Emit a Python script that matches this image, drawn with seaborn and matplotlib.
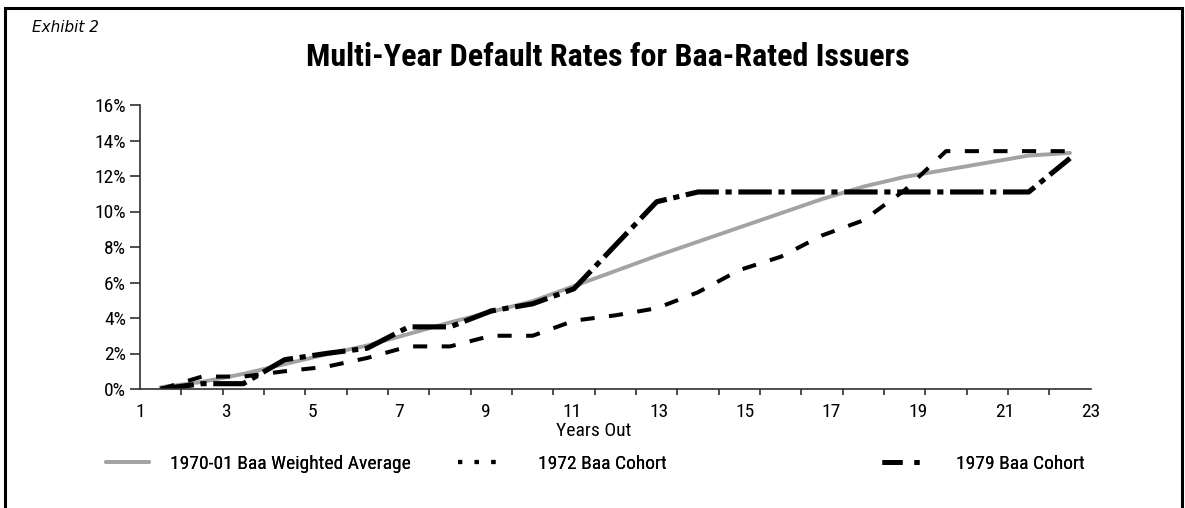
import numpy as np
import pandas as pd
import seaborn as sns
import matplotlib
matplotlib.use("Agg")
from matplotlib import pyplot as plt
from matplotlib.lines import Line2D
from matplotlib.patches import Rectangle
from matplotlib.ticker import FixedLocator, FixedFormatter, PercentFormatter

# data (default rates in %)
years = list(range(1, 24))
weighted_avg = [0.1, 0.4, 0.85, 1.4, 1.95, 2.45, 3.1, 3.75, 4.35, 4.95, 5.8, 6.65,
                7.5, 8.3, 9.1, 9.9, 10.7, 11.4, 11.95, 12.35, 12.75, 13.15, 13.3]
cohort_1972 = [0.0, 0.7, 0.7, 1.0, 1.25, 1.75, 2.4, 2.4, 3.0, 3.0, 3.85, 4.15,
               4.55, 5.45, 6.7, 7.45, 8.65, 9.5, 11.2, 13.4, 13.4, 13.4, 13.4]
cohort_1979 = [0.0, 0.3, 0.3, 1.65, 2.0, 2.3, 3.5, 3.5, 4.4, 4.8, 5.65, 8.1,
               10.55, 11.1, 11.1, 11.1, 11.1, 11.1, 11.1, 11.1, 11.1, 11.1, 13.0]
series_names = ["1970-01 Baa Weighted Average", "1972 Baa Cohort", "1979 Baa Cohort"]
x_tick_labels = [str(v) for v in range(1, 24, 2)]
y_ticks = list(range(0, 17, 2))

df = pd.DataFrame({"year": years, series_names[0]: weighted_avg,
                   series_names[1]: cohort_1972, series_names[2]: cohort_1979})

sns.set_style("white")
# condensed grotesque, close to the Helvetica Narrow of the exhibit
plt.rcParams["font.family"] = ["Roboto Condensed", "Archivo Narrow", "Liberation Sans", "DejaVu Sans"]
for c in ("text.color", "axes.labelcolor", "xtick.color", "ytick.color"):
    plt.rcParams[c] = "black"

GREY = "#a3a3a3"
AX_COL = "#303030"
FS = 14

fig = plt.figure(figsize=(11.85, 5.08), dpi=100)
ax = fig.add_axes([140 / 1185, 1 - 389 / 508, 950.7 / 1185, 284 / 508])

sns.lineplot(data=df, x="year", y=series_names[0], ax=ax, color=GREY,
             lw=2.8, legend=False)
sns.lineplot(data=df, x="year", y=series_names[1], ax=ax, color="black",
             lw=2.9, legend=False)
sns.lineplot(data=df, x="year", y=series_names[2], ax=ax, color="black",
             lw=3.7, legend=False)
l_avg, l72, l79 = ax.lines[:3]
l72.set_dashes((3.5, 3.6))
l79.set_dashes((6.5, 1.3, 1.2, 1.3))
for ln in (l72, l79):
    ln.set_dash_capstyle("butt")

ax.set_xlim(0.5, 23.5)
ax.set_ylim(0, 16)
ax.yaxis.set_major_locator(FixedLocator(y_ticks))
ax.yaxis.set_major_formatter(PercentFormatter(decimals=0))
ax.xaxis.set_major_locator(FixedLocator(np.linspace(0.5, 23.5, len(x_tick_labels))))
ax.xaxis.set_major_formatter(FixedFormatter(x_tick_labels))
ax.xaxis.set_minor_locator(FixedLocator(np.arange(0.5, 24, 1)))

for side in ("top", "right"):
    ax.spines[side].set_visible(False)
for side in ("left", "bottom"):
    ax.spines[side].set_color(AX_COL)
    ax.spines[side].set_linewidth(1.2)

ax.tick_params(axis="y", which="major", direction="out", length=7, width=1.2,
               color=AX_COL, pad=3, labelsize=FS, left=True)
ax.tick_params(axis="x", which="major", length=0, pad=10, labelsize=FS)
ax.tick_params(axis="x", which="minor", direction="out", length=4.5, width=1.2,
               color=AX_COL, bottom=True)
ax.set_ylabel("")
ax.set_xlabel("Years Out", fontsize=FS, va="top")
ax.xaxis.set_label_coords(0.4775, -0.115)
ax.grid(False)

# legend keys as drawn in the exhibit's legend row
keys = [
    Line2D([], [], color=GREY, lw=2.8),
    Line2D([], [], color="black", lw=3.0, dashes=(1.0, 3.0), dash_capstyle="butt"),
    Line2D([], [], color="black", lw=3.6, dashes=(4.0, 2.4, 1.0, 2.4), dash_capstyle="butt"),
]
leg_specs = [(106, 2.2, 1.1), (458, 2.5, 1.6), (882, 1.9, 1.9)]
for key, name, (xpix, hlen, tpad) in zip(keys, series_names, leg_specs):
    leg = fig.legend(handles=[key], labels=[name], loc="center left",
                     bbox_to_anchor=(xpix / 1185, 1 - 464 / 508), frameon=False,
                     borderpad=0, borderaxespad=0, handlelength=hlen,
                     handletextpad=tpad, fontsize=FS)
    fig.add_artist(leg)

fig.text(608 / 1185, 1 - 57 / 508, "Multi-Year Default Rates for Baa-Rated Issuers",
         ha="center", va="center", fontsize=23, fontweight="bold")
fig.text(32 / 1185, 1 - 27 / 508, "Exhibit 2", ha="left", va="center",
         fontsize=11, style="italic", family=["DejaVu Sans"])

fig.add_artist(Rectangle((5.3 / 1185, -0.1), (1182 - 5.3) / 1185, 1.1 - 8.5 / 508,
                         transform=fig.transFigure, fill=False, lw=2.2,
                         edgecolor="black", clip_on=False))

fig.savefig("out.png", dpi=100)
